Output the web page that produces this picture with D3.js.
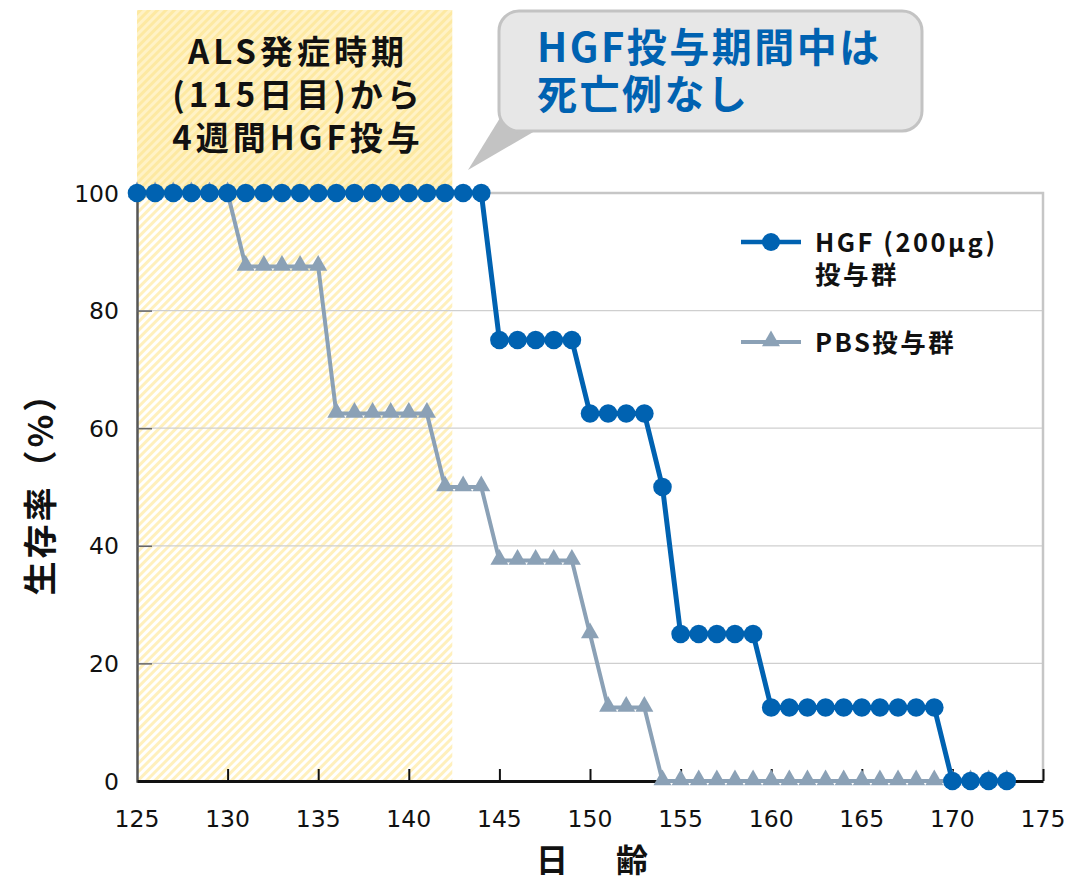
<!DOCTYPE html>
<html>
<head>
<meta charset="utf-8">
<script src="https://cdn.jsdelivr.net/npm/d3@7/dist/d3.min.js"></script>
<style>
  html, body { margin: 0; padding: 0; background: #ffffff; }
  svg { display: block; }
  text { font-family: "Noto Sans CJK JP", "DejaVu Sans", sans-serif; }
</style>
</head>
<body>
<svg id="chart" width="1069" height="883"></svg>
<script>
// Survival data: day of age and survival rate (%) per group
const days = d3.range(125, 174);
const hgfValues = [
  100,100,100,100,100,100,100,100,100,100, // 125-134
  100,100,100,100,100,100,100,100,100,100, // 135-144
  75,75,75,75,75,                          // 145-149
  62.5,62.5,62.5,62.5,                     // 150-153
  50,                                      // 154
  25,25,25,25,25,                          // 155-159
  12.5,12.5,12.5,12.5,12.5,12.5,12.5,12.5,12.5,12.5, // 160-169
  0,0,0,0                                  // 170-173
];
const pbsValues = [
  100,100,100,100,100,100,                 // 125-130
  87.5,87.5,87.5,87.5,87.5,                // 131-135
  62.5,62.5,62.5,62.5,62.5,62.5,           // 136-141
  50,50,50,                                // 142-144
  37.5,37.5,37.5,37.5,37.5,                // 145-149
  25,                                      // 150
  12.5,12.5,12.5,                          // 151-153
  0,0,0,0,0,0,0,0,0,0,0,0,0,0,0,0,0,0,0,0  // 154-173
];
const xTicks = [125,130,135,140,145,150,155,160,165,170,175];
const yTicks = [0,20,40,60,80,100];
const dosingWindow = [125, 142.4];
const seriesNames = ["HGF (200μg)", "PBS投与群"];

const svg = d3.select("#chart");
const x = d3.scaleLinear().domain([125, 175]).range([137, 1043]);
const y = d3.scaleLinear().domain([0, 100]).range([781, 193]);

const BLUE = "#0062b1";
const GREY = "#8ba1b6";

// Multi-line label as one text element with stacked tspans
function multiline(g, lines, xPos, yPos, lineHeight) {
  const t = g.append("text").attr("x", xPos).attr("y", yPos);
  lines.forEach((s, i) => {
    t.append("tspan").attr("x", xPos).attr("dy", i === 0 ? 0 : lineHeight).text(s);
  });
  return t;
}

// Hatch patterns for the dosing window
const defs = svg.append("defs");
function hatch(id, bg, fg) {
  const p = defs.append("pattern").attr("id", id)
    .attr("patternUnits", "userSpaceOnUse")
    .attr("width", 6).attr("height", 6)
    .attr("patternTransform", "rotate(45)");
  p.append("rect").attr("width", 6).attr("height", 6).attr("fill", bg);
  p.append("rect").attr("width", 3).attr("height", 6).attr("fill", fg);
}
hatch("hatchLow", "#ffffff", "#fff0bd");
hatch("hatchHigh", "#fde9a2", "#fff2c6");

// Shaded dosing window (above the plot and within it)
svg.append("rect")
  .attr("x", x(dosingWindow[0])).attr("y", 10)
  .attr("width", x(dosingWindow[1]) - x(dosingWindow[0]))
  .attr("height", y(100) - 10)
  .attr("fill", "url(#hatchHigh)");
svg.append("rect")
  .attr("x", x(dosingWindow[0])).attr("y", y(100))
  .attr("width", x(dosingWindow[1]) - x(dosingWindow[0]))
  .attr("height", y(0) - y(100))
  .attr("fill", "url(#hatchLow)");

// Grid lines and plot frame (top, right)
svg.append("g").selectAll("line")
  .data(yTicks.filter(d => d > 0 && d < 100))
  .join("line")
  .attr("x1", x(125)).attr("x2", x(175))
  .attr("y1", d => y(d)).attr("y2", d => y(d))
  .attr("stroke", "#cfcfcf").attr("stroke-width", 1.2);
svg.append("path")
  .attr("d", `M${x(125)},${y(100)}H${x(175)}V${y(0)}`)
  .attr("fill", "none").attr("stroke", "#c6c6c6").attr("stroke-width", 2.5);

// Y axis
const yAxis = svg.append("g")
  .attr("transform", `translate(${x(125)},0)`)
  .call(d3.axisRight(y).tickValues(yTicks).tickSize(15).tickFormat(""));
yAxis.select(".domain").attr("stroke", "#555").attr("stroke-width", 2.5);
yAxis.selectAll(".tick line").attr("stroke", "#666").attr("stroke-width", 1.5)
  .filter(d => d === 0 || d === 100).remove();
svg.append("g").selectAll("text")
  .data(yTicks).join("text")
  .attr("x", 119).attr("y", d => y(d) + 8.5)
  .attr("text-anchor", "end")
  .style("font-family", "'DejaVu Sans', sans-serif")
  .attr("font-size", 23.5).attr("fill", "#111")
  .text(d => d);

// X axis
const xAxis = svg.append("g")
  .attr("transform", `translate(0,${y(0)})`)
  .call(d3.axisTop(x).tickValues(xTicks).tickSize(12).tickSizeOuter(0).tickFormat(""));
xAxis.select(".domain").attr("stroke", "#111").attr("stroke-width", 3);
xAxis.selectAll(".tick line").attr("stroke", "#111").attr("stroke-width", 2)
  .filter(d => d === 125).remove();
svg.append("g").selectAll("text")
  .data(xTicks).join("text")
  .attr("x", d => x(d)).attr("y", 827)
  .attr("text-anchor", "middle")
  .style("font-family", "'DejaVu Sans', sans-serif")
  .attr("font-size", 23.5).attr("fill", "#111")
  .text(d => d);

// Axis titles
svg.append("text")
  .attr("transform", "translate(53,485) rotate(-90)")
  .attr("text-anchor", "middle")
  .attr("font-size", 34).attr("font-weight", 700).attr("fill", "#111")
  .attr("letter-spacing", 3)
  .text("生存率（%）");
svg.append("text")
  .attr("x", 596).attr("y", 872)
  .attr("text-anchor", "middle")
  .attr("font-size", 32).attr("font-weight", 700).attr("fill", "#111")
  .attr("letter-spacing", 8)
  .text("日　齢");

// Series
const line = d3.line().x(d => x(d[0])).y(d => y(d[1]));
const pbs = days.map((d, i) => [d, pbsValues[i]]);
const hgf = days.map((d, i) => [d, hgfValues[i]]);
const tri = d3.symbol().type(d3.symbolTriangle).size(140);

svg.append("path").datum(pbs).attr("d", line)
  .attr("fill", "none").attr("stroke", GREY).attr("stroke-width", 4)
  .attr("stroke-linejoin", "round");
svg.append("g").selectAll("path").data(pbs).join("path")
  .attr("transform", d => `translate(${x(d[0])},${y(d[1]) - 1})`)
  .attr("d", tri).attr("fill", GREY);

svg.append("path").datum(hgf).attr("d", line)
  .attr("fill", "none").attr("stroke", BLUE).attr("stroke-width", 5)
  .attr("stroke-linejoin", "round");
svg.append("g").selectAll("circle").data(hgf).join("circle")
  .attr("cx", d => x(d[0])).attr("cy", d => y(d[1]))
  .attr("r", 9.3).attr("fill", BLUE);

// Legend
const lg = svg.append("g").attr("font-size", 25.5).attr("font-weight", 700)
  .attr("fill", "#111").attr("letter-spacing", 2.5);
lg.append("line").attr("x1", 741).attr("x2", 801).attr("y1", 242).attr("y2", 242)
  .attr("stroke", BLUE).attr("stroke-width", 4.5);
lg.append("circle").attr("cx", 771).attr("cy", 242).attr("r", 9).attr("fill", BLUE);
multiline(lg, [seriesNames[0], "投与群"], 815, 252, 32);
lg.append("line").attr("x1", 741).attr("x2", 801).attr("y1", 342).attr("y2", 342)
  .attr("stroke", GREY).attr("stroke-width", 4);
lg.append("path").attr("transform", "translate(771,341)").attr("d", tri).attr("fill", GREY);
lg.append("text").attr("x", 815).attr("y", 352).text(seriesNames[1]);

// Dosing window annotation
const ann = svg.append("g").attr("font-size", 33).attr("font-weight", 700)
  .attr("fill", "#111").attr("text-anchor", "middle").attr("letter-spacing", 4);
multiline(ann, ["ALS発症時期", "(115日目)から", "4週間HGF投与"], 298, 64, 43);

// Callout bubble
const bub = svg.append("g");
bub.append("path")
  .attr("d", "M500,118 L468,170 L535,131 Z")
  .attr("fill", "#c3c3c3");
bub.append("rect")
  .attr("x", 499).attr("y", 11).attr("width", 423).attr("height", 120)
  .attr("rx", 20).attr("ry", 20)
  .attr("fill", "#e7e7e7").attr("stroke", "#c3c3c3").attr("stroke-width", 3);
const bt = bub.append("g").attr("font-size", 40).attr("font-weight", 700)
  .attr("fill", BLUE).attr("letter-spacing", 2.5);
multiline(bt, ["HGF投与期間中は", "死亡例なし"], 537, 62, 47);
</script>
</body>
</html>
